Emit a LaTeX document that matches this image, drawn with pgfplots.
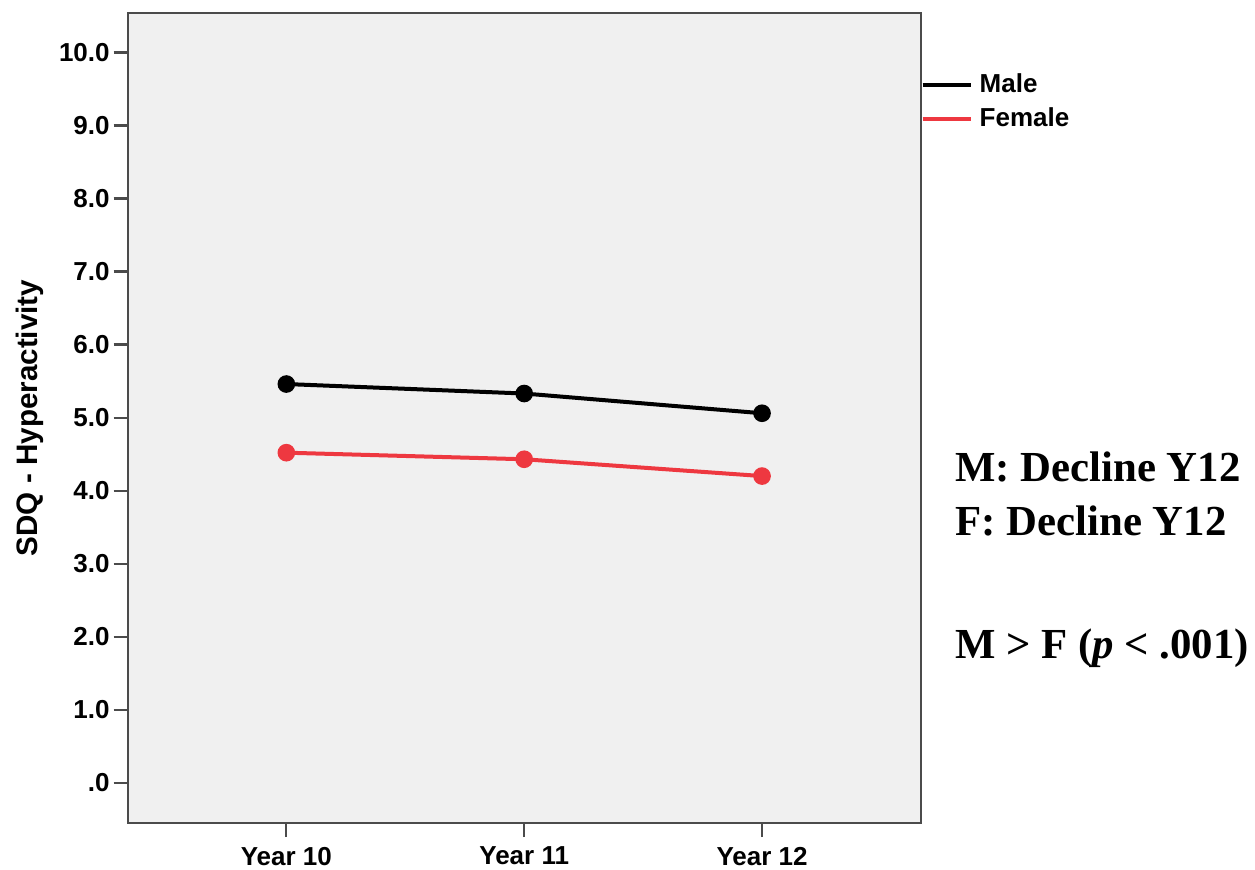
\documentclass[border=0pt]{standalone}
\usepackage{fontspec}
\setmainfont{Liberation Sans}
\newfontfamily\timesf{Liberation Serif}
\usepackage{pgfplots}
\pgfplotsset{compat=1.18}
\definecolor{femred}{RGB}{238,56,64}
\definecolor{framegray}{RGB}{75,75,75}
\definecolor{plotbg}{RGB}{240,240,240}
\begin{document}
\begin{tikzpicture}
\useasboundingbox (0,0) rectangle (627.5pt,434.5pt);
\begin{axis}[
  at={(63.85pt,23pt)}, anchor=south west,
  scale only axis, width=396.5pt, height=405pt,
  xmin=-0.667, xmax=2.667, ymin=-0.55, ymax=10.54,
  axis background/.style={fill=plotbg},
  axis line style={draw=framegray, line width=1.1pt},
  xtick={0,1,2}, xticklabels={Year 10,Year 11,Year 12},
  ytick={0,1,...,10}, yticklabels={.0,1.0,2.0,3.0,4.0,5.0,6.0,7.0,8.0,9.0,10.0},
  xtick pos=bottom, ytick pos=left, tick align=outside,
  major tick length=7pt,
  tick style={draw=framegray, line width=1.1pt},
  ticklabel style={font=\fontsize{13}{15}\selectfont\bfseries},
  yticklabel style={xshift=1.5pt},
  xticklabel style={yshift=-1.5pt},
  ylabel={SDQ - Hyperactivity},
  ylabel style={at={(axis description cs:-0.1232,0.5)}, anchor=center, font=\fontsize{14.8}{17}\selectfont\bfseries},
  legend style={at={(axis description cs:1,1)}, anchor=north west, draw=none, fill=none,
    xshift=0pt, yshift=-28.5pt, font=\fontsize{13}{15}\selectfont\bfseries, row sep=2pt,
    inner sep=0pt, outer sep=0pt},
  legend cell align=left,
  legend image code/.code={\draw[#1, line width=2pt] (0pt,0pt) -- (24pt,0pt);},
]
\addplot[black, line width=2pt, mark=*, mark size=3.4pt, mark options={solid}] coordinates {(0,5.46) (1,5.33) (2,5.06)};
\addlegendentry{\hspace{1.5pt}Male}
\addplot[femred, line width=2pt, mark=*, mark size=3.4pt, mark options={solid}] coordinates {(0,4.52) (1,4.43) (2,4.20)};
\addlegendentry{\hspace{1.5pt}Female}
\end{axis}
\node[anchor=base west, inner sep=0pt, font=\fontsize{21.4}{24}\selectfont\timesf\bfseries] at (477.5pt,193.65pt) {M: Decline Y12};
\node[anchor=base west, inner sep=0pt, font=\fontsize{21.4}{24}\selectfont\timesf\bfseries] at (477.5pt,166.5pt) {F: Decline Y12};
\node[anchor=base west, inner sep=0pt, font=\fontsize{21.4}{24}\selectfont\timesf\bfseries] at (477.5pt,105pt) {M > F (\textit{p} < .001)};
\end{tikzpicture}
\end{document}
